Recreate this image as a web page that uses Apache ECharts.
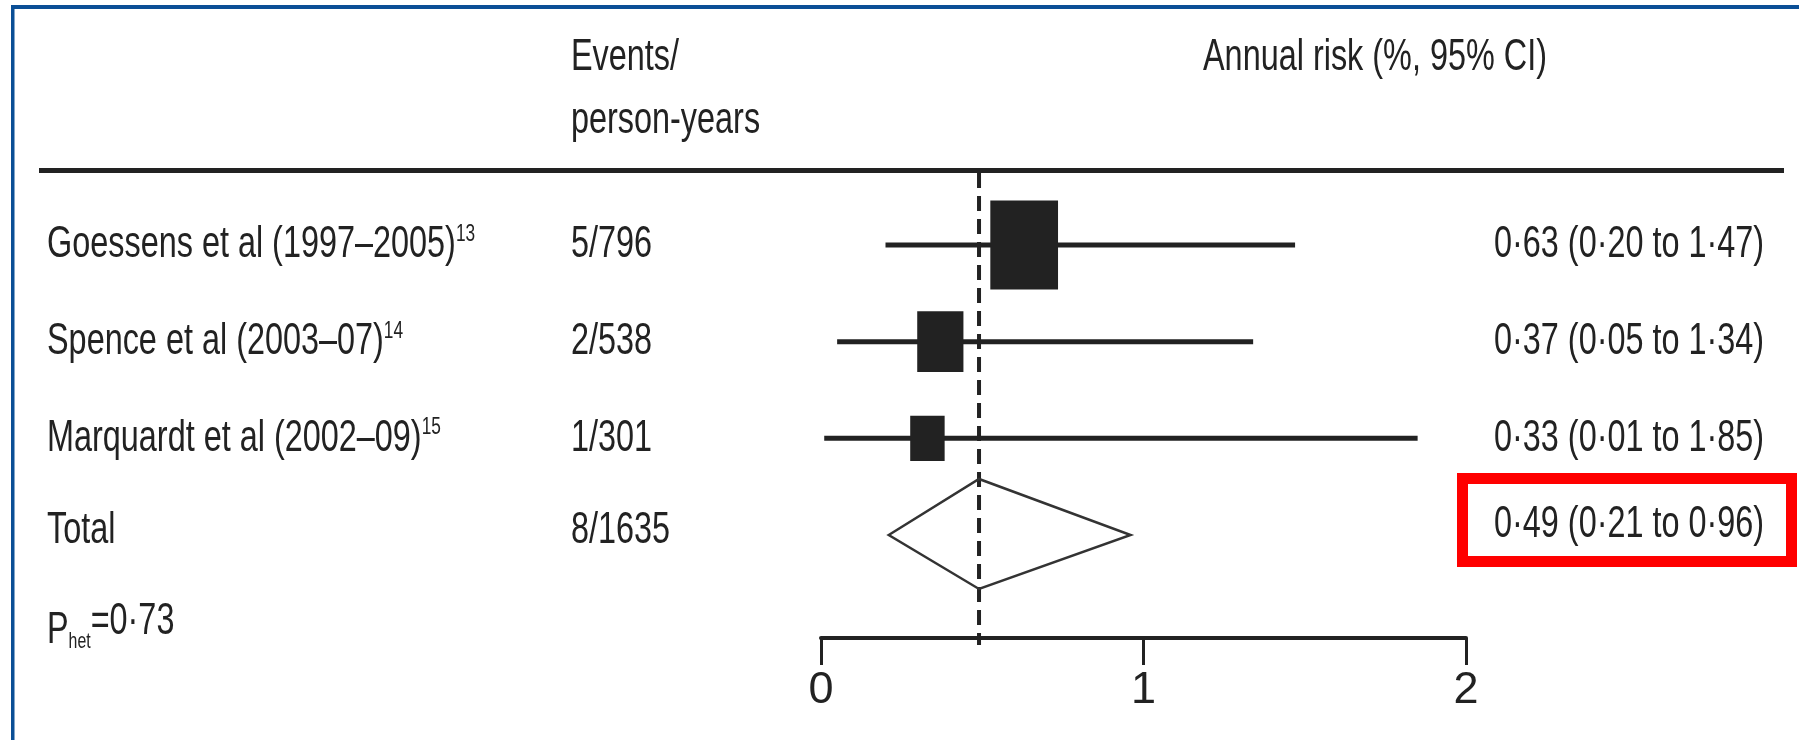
<!DOCTYPE html>
<html><head><meta charset="utf-8">
<script src="https://cdn.jsdelivr.net/npm/echarts@6/dist/echarts.min.js"></script>
<style>html,body{margin:0;padding:0;background:#fff}#c{width:1799px;height:740px}</style>
</head><body><div id="c"></div>
<script>
// ---- data ----
const studies = ['Goessens et al (1997–2005)', 'Spence et al (2003–07)', 'Marquardt et al (2002–09)'];
const refs = ['13', '14', '15'];
const events = ['5/796', '2/538', '1/301'];
const estimates = [0.63, 0.37, 0.33];
const lower = [0.20, 0.05, 0.01];
const upper = [1.47, 1.34, 1.85];
const weights = [58, 27, 15];
const totalLabel = 'Total';
const totalEvents = '8/1635';
const totalEstimate = [0.49];
const totalLower = [0.21];
const totalUpper = [0.96];
const pHet = '0·73';
const xTicks = [0, 1, 2];
const headers = ['Events/', 'person-years', 'Annual risk (%, 95% CI)'];

// ---- style / layout ----
const INK = '#222';
const FONT = '"Liberation Sans", Arial, sans-serif';
const FS = 45, SX = 0.72;
const Y_MIN = -0.066, Y_MAX = 4.745;
const fmt = v => v.toFixed(2).replace('.', '·');
const ciText = (e, l, u) => fmt(e) + ' (' + fmt(l) + ' to ' + fmt(u) + ')';

const nRows = studies.length;
const rowY = i => nRows - i + 1;   // 4,3,2 for studies; total at 1
const TOTAL_Y = 1;

const studyData = studies.map((s, i) => [estimates[i], rowY(i), lower[i], upper[i], weights[i]]);
const tableRows = studies.map((s, i) => ({
  name: s, ref: refs[i], ev: events[i], ci: ciText(estimates[i], lower[i], upper[i]), y: rowY(i), total: false
})).concat([{ name: totalLabel, ref: '', ev: totalEvents, ci: ciText(totalEstimate[0], totalLower[0], totalUpper[0]), y: TOTAL_Y, total: true }]);

function txt(x, y, text, extra) {
  return Object.assign({
    type: 'text', x: x, y: y, scaleX: SX,
    style: Object.assign({ text: text, fill: INK, fontSize: FS, fontFamily: FONT, align: 'left', verticalAlign: 'middle' }, extra || {})
  });
}

const chart = echarts.init(document.getElementById('c'), null, { renderer: 'canvas' });
chart.setOption({
  animation: false,
  backgroundColor: '#fff',
  grid: { left: 821, right: 333, top: 173, bottom: 102, outerBoundsMode: 'none' },
  xAxis: {
    type: 'value', min: xTicks[0], max: xTicks[xTicks.length - 1], interval: 1,
    axisLine: { onZero: false, lineStyle: { color: INK, width: 4 } },
    axisTick: { length: 27, lineStyle: { color: INK, width: 3 } },
    axisLabel: { fontSize: 45, color: INK, fontFamily: FONT, margin: 30 },
    splitLine: { show: false }
  },
  yAxis: { type: 'value', min: Y_MIN, max: Y_MAX, show: false },
  graphic: [
    { type: 'rect', shape: { x: 11, y: 5, width: 1788, height: 4 }, style: { fill: '#0b4f96' } },
    { type: 'rect', shape: { x: 11, y: 5, width: 3.5, height: 735 }, style: { fill: '#0b4f96' } },
    { type: 'line', shape: { x1: 39, y1: 170.5, x2: 1784, y2: 170.5 }, style: { stroke: INK, lineWidth: 5 } },
    txt(571, 58, headers[0]),
    txt(571, 121, headers[1]),
    txt(1203, 58, headers[2]),
    {
      type: 'text', x: 47, y: 653, scaleX: SX,
      style: {
        text: '{p|P}{h|het}{v|=' + pHet + '}', align: 'left', verticalAlign: 'bottom',
        rich: {
          p: { fontSize: FS, fontFamily: FONT, fill: INK, verticalAlign: 'bottom' },
          h: { fontSize: 22, fontFamily: FONT, fill: INK, verticalAlign: 'bottom' },
          v: { fontSize: FS, fontFamily: FONT, fill: INK, verticalAlign: 'bottom', padding: [0, 0, 9, 0] }
        }
      }
    }
  ],
  series: [
    { // reference (pooled) dashed line
      type: 'custom', clip: false, silent: true, z: 1,
      data: [[totalEstimate[0], Y_MAX]],
      renderItem: function (params, api) {
        const top = api.coord([api.value(0), Y_MAX]);
        const bot = api.coord([api.value(0), Y_MIN]);
        return { type: 'line', shape: { x1: top[0], y1: top[1], x2: bot[0], y2: bot[1] + 7 },
          style: { stroke: INK, lineWidth: 4, lineDash: [15, 8] } };
      }
    },
    { // studies: CI lines + weighted boxes
      type: 'custom', clip: false, silent: true, z: 2,
      data: studyData,
      renderItem: function (params, api) {
        const y = api.value(1);
        const c = api.coord([api.value(0), y]);
        const l = api.coord([api.value(2), y]);
        const h = api.coord([api.value(3), y]);
        const bh = 11.7 * Math.sqrt(api.value(4)), bw = bh * 0.76;
        return { type: 'group', children: [
          { type: 'line', shape: { x1: l[0], y1: c[1], x2: h[0], y2: c[1] }, style: { stroke: INK, lineWidth: 5 } },
          { type: 'rect', shape: { x: c[0] - bw / 2, y: c[1] - bh / 2, width: bw, height: bh }, style: { fill: INK } }
        ] };
      }
    },
    { // pooled diamond
      type: 'custom', clip: false, silent: true, z: 2,
      data: [[totalEstimate[0], TOTAL_Y, totalLower[0], totalUpper[0]]],
      renderItem: function (params, api) {
        const y = api.value(1);
        const c = api.coord([api.value(0), y]);
        const l = api.coord([api.value(2), y]);
        const h = api.coord([api.value(3), y]);
        return { type: 'polygon', shape: { points: [[l[0], c[1]], [c[0], c[1] - 56], [h[0], c[1]], [c[0], c[1] + 54]] },
          style: { fill: 'none', stroke: '#333', lineWidth: 2.5 } };
      }
    },
    { // table text
      type: 'custom', clip: false, silent: true, z: 3,
      data: tableRows.map(r => [0, r.y]),
      renderItem: function (params, api) {
        const r = tableRows[params.dataIndex];
        const cy = api.coord([0, api.value(1)])[1];
        const off = r.total ? -4 : 0;
        const children = [];
        if (r.ref) {
          children.push({
            type: 'text', x: 47, y: cy, scaleX: SX,
            style: { text: '{n|' + r.name + '}{s|' + r.ref + '}', align: 'left', verticalAlign: 'middle',
              rich: { n: { fontSize: FS, fontFamily: FONT, fill: INK, verticalAlign: 'bottom' },
                      s: { fontSize: 24, fontFamily: FONT, fill: INK, verticalAlign: 'top' } } }
          });
        } else {
          children.push(txt(47, cy + off, r.name));
        }
        children.push(txt(571, cy + off, r.ev));
        children.push(txt(1494, cy + (r.total ? -10 : 0), r.ci));
        if (r.total) {
          children.push({ type: 'rect', shape: { x: 1462.5, y: cy - 56.5, width: 329, height: 83 },
            style: { fill: 'none', stroke: '#ff0000', lineWidth: 11 } });
        }
        return { type: 'group', children: children };
      }
    }
  ]
});
</script>
</body></html>
